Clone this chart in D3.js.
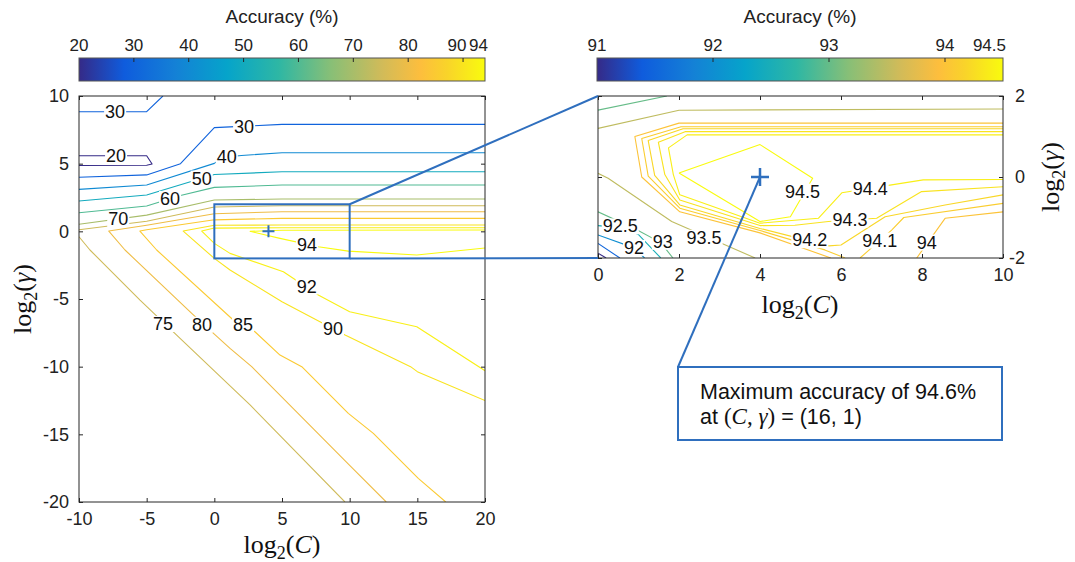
<!DOCTYPE html>
<html>
<head>
<meta charset="utf-8">
<script src="https://cdn.jsdelivr.net/npm/d3@7"></script>
<style>
  body { margin: 0; background: #fff; }
  svg { font-family: "Liberation Sans", Arial, Helvetica, sans-serif; }
</style>
</head>
<body>
<svg id="chart" width="1075" height="562"></svg>
<script>
// ---------- data ----------
// axes ticks
const leftXTicks = [-10, -5, 0, 5, 10, 15, 20];
const leftYTicks = [-20, -15, -10, -5, 0, 5, 10];
const rightXTicks = [0, 2, 4, 6, 8, 10];
const rightYTicks = [-2, 0, 2];
const cbLeftTicks = [20, 30, 40, 50, 60, 70, 80, 90, 94];
const cbRightTicks = [91, 92, 93, 94, 94.5];

// left panel contours, [log2 C, log2 gamma]
const c20 = [[-10, 5.59], [-5, 5.59], [-4.6, 4.97], [-5, 4.88], [-10, 4.86]];
const c30a = [[-10, 8.84], [-5, 8.84], [-3.8, 10]];
const c30b = [[-10, 4.0], [-5, 4.17], [-2.5, 5.0], [0, 7.66], [5, 7.9], [20, 7.9]];
const c40 = [[-10, 3.1], [-5, 3.42], [0, 5.02], [0.6, 5.45], [2, 5.6], [5, 5.81], [20, 5.81]];
const c50 = [[-10, 2.24], [-5, 2.68], [0, 4.2], [5, 4.4], [20, 4.4]];
const c60 = [[-10, 1.37], [-5, 1.87], [-2.5, 2.65], [0, 3.25], [5, 3.42], [20, 3.42]];
const c70 = [[-10, 0.52], [-5, 1.2], [0, 2.31], [5, 2.39], [20, 2.39]];
const c75a = [[-10, 0.12], [-5, 0.75], [0, 1.8], [5, 1.89], [20, 1.89]];
const c75b = [[-10, -0.4], [-9.19, -1.38], [-5.49, -5.08], [-2.53, -7.91], [2.64, -12.83], [9.65, -20]];
const c80 = [[20, 1.45], [5, 1.45], [0, 1.3], [-5, 0.45], [-7.8, 0.02], [-6.6, -1.38], [-1.67, -6.06],
             [0, -7.6], [1.16, -8.65], [2.76, -10], [10, -17.3], [12.7, -20]];
const c85 = [[20, 0.96], [5, 0.96], [0, 0.85], [-5, 0.12], [-5.5, 0.02], [-4.26, -1.38], [1.4, -6.55],
             [3.0, -7.42], [4.85, -9.14], [6.46, -10], [9.9, -13.45], [11.75, -14.93], [15.07, -18.25], [17.1, -20]];
const c90 = [[20, 0.47], [5, 0.47], [0, 0.45], [-2.3, 0.02], [0, -2.0], [1.16, -2.86], [5, -5.2],
             [9.66, -7.66], [14.5, -10], [15, -10.37], [20, -12.5]];
const c92 = [[20, 0.27], [5, 0.27], [0, 0.24], [-0.93, 0.02], [0, -0.89], [1.16, -1.63], [5.1, -2.99],
             [7.68, -4.71], [10, -5.94], [14.96, -7.05], [20, -10.3]];
const c94 = [[20, 0.1], [5, 0.08], [2.64, 0.0], [4.85, -0.52], [7.68, -1.14], [9.9, -1.46], [14.96, -1.75], [20, -1.23]];

const leftLabels = [
  ["30", -7.33, 8.84], ["20", -7.26, 5.59], ["30", 2.2, 7.72], ["40", 0.92, 5.47],
  ["50", -0.93, 3.9], ["60", -3.27, 2.4], ["70", -7.1, 0.91], ["75", -3.79, -6.85],
  ["80", -0.91, -6.9], ["85", 2.12, -6.94], ["90", 8.77, -7.19], ["92", 6.83, -4.08], ["94", 6.85, -0.98]
];

// right panel (zoom) contours
const r91 = [[0, -1.88], [0.2, -2.0]];
const r915 = [[0, -1.64], [0.54, -2.0]];
const r92 = [[0, -1.43], [0.89, -1.75], [1.15, -2.0]];
const r925 = [[0, -1.2], [0.55, -1.25], [1.0, -1.42], [1.55, -2.0]];
const r93a = [[0, 1.65], [1.7, 2.0]];
const r93b = [[0, -0.86], [0.9, -1.27], [1.55, -1.62], [1.85, -2.0]];
const r935a = [[0, 1.2], [2, 1.65], [10, 1.68]];
const r935b = [[0, 0.09], [0.25, -0.03], [1.82, -1.1], [3.88, -2.0]];
const r940a = [[10, 1.33], [2.0, 1.33], [0.91, 1.0], [1.08, 0.0], [2.02, -0.86], [4.0, -1.38], [5.75, -2.0]];
const r940b = [[7.87, -2.0], [8.57, -1.02], [10, -0.86]];
const r941a = [[10, 1.24], [2.05, 1.24], [1.08, 0.95], [1.24, 0.02], [2.02, -0.77], [4.0, -1.32], [5.6, -1.8], [6.1, -2.0]];
const r941b = [[6.47, -2.0], [7.25, -1.31], [7.55, -1.0], [10, -0.65]];
const r942 = [[10, 1.19], [2.1, 1.19], [1.24, 0.9], [1.4, 0.04], [2.02, -0.69], [4.0, -1.27], [5.7, -1.7],
              [6.0, -1.68], [6.51, -1.35], [7.09, -0.98], [8.57, -0.69], [10, -0.44]];
const r943 = [[10, 1.12], [2.15, 1.12], [1.49, 0.86], [1.65, 0.06], [2.02, -0.57], [4.0, -1.2], [4.86, -1.19],
              [5.69, -1.1], [6.88, -1.02], [7.99, -0.36], [10, -0.24]];
const r944 = [[10, 1.04], [2.2, 1.04], [1.74, 0.72], [1.86, 0.06], [2.02, -0.44], [4.0, -1.14], [5.44, -1.02],
              [6.02, -0.39], [7.21, -0.2], [8.03, -0.07], [10, -0.06]];
const r945 = [[2.0, 0.1], [4.0, 0.8], [5.3, -0.03], [4.75, -0.98], [4.0, -1.1], [2.0, 0.1]];

const rightLabels = [
  ["94.5", 5.05, -0.36], ["94.4", 6.72, -0.3], ["94.3", 6.22, -1.05], ["94.2", 5.23, -1.56],
  ["94.1", 6.96, -1.57], ["94", 8.12, -1.62], ["93.5", 2.62, -1.5], ["93", 1.6, -1.6],
  ["92", 0.89, -1.75], ["92.5", 0.55, -1.22]
];

const bestPoint = [4, 0];        // log2 C = 4, log2 gamma = 0
const zoomBox = [[0, -2], [10, 2]];

const leftContours = [
  [20, c20], [30, c30a], [30, c30b], [40, c40], [50, c50], [60, c60], [70, c70],
  [75, c75a], [75, c75b], [80, c80], [85, c85], [90, c90], [92, c92], [94, c94]
];
const rightContours = [
  [91, r91], [91.5, r915], [92, r92], [92.5, r925], [93, r93a], [93, r93b], [93.5, r935a], [93.5, r935b],
  [94, r940a], [94, r940b], [94.1, r941a], [94.1, r941b], [94.2, r942], [94.3, r943], [94.4, r944], [94.5, r945]
];

// parula colour map
const parulaT = [0, 0.111, 0.238, 0.365, 0.492, 0.619, 0.746, 0.841, 0.905, 1];
const parulaC = ["#352a87", "#0f5cdd", "#1481d6", "#06a4ca", "#2eb7a4", "#87bf77", "#d1bb59", "#fdbe3d", "#f9d32a", "#f9fb0e"];
const parula = d3.scaleLinear().domain(parulaT).range(parulaC).interpolate(d3.interpolateRgb).clamp(true);

// ---------- drawing ----------
const svg = d3.select("#chart");
const blue = "#2f6fbe";
const axisCol = "#262626";

const xL = d3.scaleLinear().domain([-10, 20]).range([79, 485]);
const yL = d3.scaleLinear().domain([-20, 10]).range([502, 96]);
const xR = d3.scaleLinear().domain([0, 10]).range([598, 1003]);
const yR = d3.scaleLinear().domain([-2, 2]).range([258, 96]);
const cbL = d3.scaleLinear().domain([20, 94]).range([79, 485]);
const cbR = d3.scaleLinear().domain([91, 94.5]).range([597, 1003]);

const defs = svg.append("defs");
function clip(id, x, y) {
  defs.append("clipPath").attr("id", id).append("rect")
    .attr("x", x.range()[0]).attr("y", y.range()[1])
    .attr("width", x.range()[1] - x.range()[0]).attr("height", y.range()[0] - y.range()[1]);
}
clip("clipL", xL, yL);
clip("clipR", xR, yR);

function drawContours(list, x, y, lo, hi, clipId) {
  const line = d3.line().x(d => x(d[0])).y(d => y(d[1]));
  svg.append("g").attr("clip-path", `url(#${clipId})`)
    .selectAll("path").data(list).join("path")
    .attr("d", d => line(d[1]))
    .attr("fill", "none")
    .attr("stroke", d => parula((d[0] - lo) / (hi - lo)))
    .attr("stroke-width", 1.1)
    .attr("stroke-linejoin", "round");
}
drawContours(leftContours, xL, yL, 20, 94, "clipL");
drawContours(rightContours, xR, yR, 91, 94.5, "clipR");

function drawLabels(list, x, y, clipId) {
  const g = svg.append("g").attr("clip-path", `url(#${clipId})`);
  list.forEach(d => {
    const lg = g.append("g");
    const r = lg.append("rect").attr("fill", "#fff");
    const t = lg.append("text")
      .attr("x", x(d[1])).attr("y", y(d[2]))
      .attr("text-anchor", "middle").attr("dominant-baseline", "central")
      .attr("font-size", 18).attr("fill", "#111").text(d[0]);
    const b = t.node().getBBox();
    r.attr("x", b.x - 1).attr("y", b.y + 2).attr("width", b.width + 2).attr("height", b.height - 4);
  });
}
drawLabels(leftLabels, xL, yL, "clipL");
drawLabels(rightLabels, xR, yR, "clipR");

const fmt = d => String(d);
function styleAxis(g, showText) {
  g.select(".domain").remove();
  g.selectAll("line").attr("stroke", axisCol);
  g.selectAll("text").attr("font-size", 18).attr("fill", "#222").attr("font-family", null);
  if (!showText) g.selectAll("text").remove();
}
function drawAxes(x, y, xt, yt, yOnRight) {
  const g = svg.append("g");
  const x0 = x.range()[0], x1 = x.range()[1], y0 = y.range()[0], y1 = y.range()[1];
  g.append("g").attr("transform", `translate(0,${y0})`)
    .call(d3.axisBottom(x).tickValues(xt).tickFormat(fmt).tickSizeInner(-4).tickSizeOuter(0).tickPadding(10))
    .call(s => styleAxis(s, true));
  g.append("g").attr("transform", `translate(0,${y1})`)
    .call(d3.axisTop(x).tickValues(xt).tickSizeInner(-4).tickSizeOuter(0))
    .call(s => styleAxis(s, false));
  g.append("g").attr("transform", `translate(${x0},0)`)
    .call(d3.axisLeft(y).tickValues(yt).tickFormat(fmt).tickSizeInner(-4).tickSizeOuter(0).tickPadding(10))
    .call(s => styleAxis(s, !yOnRight));
  const ra = g.append("g").attr("transform", `translate(${x1},0)`)
    .call(d3.axisRight(y).tickValues(yt).tickFormat(fmt).tickSizeInner(-4).tickSizeOuter(0).tickPadding(22))
    .call(s => styleAxis(s, yOnRight));
  ra.selectAll("text").attr("text-anchor", "end");
  g.append("rect").attr("x", x0).attr("y", y1).attr("width", x1 - x0).attr("height", y0 - y1)
    .attr("fill", "none").attr("stroke", axisCol).attr("stroke-width", 1);
}
drawAxes(xL, yL, leftXTicks, leftYTicks, false);
drawAxes(xR, yR, rightXTicks, rightYTicks, true);

// axis titles (math style)
function mathLabel(x, y, rotate, varName) {
  const t = svg.append("text")
    .attr("transform", `translate(${x},${y})` + (rotate ? " rotate(-90)" : ""))
    .attr("text-anchor", "middle")
    .attr("font-family", "'Liberation Serif', 'Times New Roman', serif")
    .attr("font-size", 26).attr("fill", "#111");
  t.append("tspan").text("log");
  t.append("tspan").attr("font-size", 18).attr("dy", 6).text("2");
  t.append("tspan").attr("dy", -6).text("(");
  t.append("tspan").attr("font-style", "italic").text(varName);
  t.append("tspan").text(")");
}
mathLabel(282, 553, false, "C");
mathLabel(800, 313, false, "C");
mathLabel(31, 299, true, "\u03b3");
mathLabel(1059, 177, true, "\u03b3");

// colour bars
function colorbar(id, sc, ticks) {
  const lo = sc.domain()[0], hi = sc.domain()[1];
  const n = ticks.length;
  const grad = defs.append("linearGradient").attr("id", id);
  parulaT.forEach((t, i) => grad.append("stop").attr("offset", t).attr("stop-color", parulaC[i]));
  const x0 = sc.range()[0], x1 = sc.range()[1];
  const g = svg.append("g");
  g.append("rect").attr("x", x0).attr("y", 58).attr("width", x1 - x0).attr("height", 23)
    .attr("fill", `url(#${id})`).attr("stroke", "#555").attr("stroke-width", 1);
  g.selectAll("line.tk").data(ticks.filter(t => t > lo && t < hi)).join("line")
    .attr("x1", d => sc(d)).attr("x2", d => sc(d)).attr("y1", 58).attr("y2", 62)
    .attr("stroke", axisCol);
  // last label is kept inside the bar end; a crowded neighbour moves aside
  const crowded = sc(ticks[n - 1]) - sc(ticks[n - 2]) < 30;
  g.selectAll("text.tl").data(ticks).join("text")
    .attr("x", (d, i) => i === n - 1 ? sc(d) + 3 : (i === n - 2 && crowded ? sc(d) - 6 : sc(d)))
    .attr("y", 51)
    .attr("text-anchor", (d, i) => i === n - 1 ? "end" : "middle")
    .attr("font-size", 17).attr("fill", "#222").text(d => String(d));
  g.append("text").attr("x", (x0 + x1) / 2).attr("y", 23).attr("text-anchor", "middle")
    .attr("font-size", 19).attr("fill", "#222").text("Accuracy (%)");
}
colorbar("gradL", cbL, cbLeftTicks);
colorbar("gradR", cbR, cbRightTicks);

// zoom rectangle and connectors
svg.append("rect")
  .attr("x", xL(zoomBox[0][0])).attr("y", yL(zoomBox[1][1]))
  .attr("width", xL(zoomBox[1][0]) - xL(zoomBox[0][0]))
  .attr("height", yL(zoomBox[0][1]) - yL(zoomBox[1][1]))
  .attr("fill", "none").attr("stroke", blue).attr("stroke-width", 2);
svg.append("line")
  .attr("x1", xL(zoomBox[1][0])).attr("y1", yL(zoomBox[1][1]))
  .attr("x2", xR(zoomBox[0][0])).attr("y2", yR(zoomBox[1][1]))
  .attr("stroke", blue).attr("stroke-width", 2);
svg.append("line")
  .attr("x1", xL(zoomBox[1][0])).attr("y1", yL(zoomBox[0][1]))
  .attr("x2", xR(zoomBox[0][0])).attr("y2", yR(zoomBox[0][1]))
  .attr("stroke", blue).attr("stroke-width", 2);

// annotation
const box = { x: 678, y: 367, w: 324, h: 73 };
svg.append("line")
  .attr("x1", xR(bestPoint[0])).attr("y1", yR(bestPoint[1]))
  .attr("x2", box.x).attr("y2", box.y)
  .attr("stroke", blue).attr("stroke-width", 2);
svg.append("rect").attr("x", box.x).attr("y", box.y).attr("width", box.w).attr("height", box.h)
  .attr("fill", "#fff").attr("stroke", blue).attr("stroke-width", 2);
svg.append("text").attr("x", box.x + 22).attr("y", box.y + 32)
  .attr("font-size", 21.5).attr("fill", "#111").text("Maximum accuracy of 94.6%");
const t2 = svg.append("text").attr("x", box.x + 22).attr("y", box.y + 57)
  .attr("font-size", 21.5).attr("fill", "#111");
t2.append("tspan").text("at ");
const m = t2.append("tspan").attr("font-family", "'Liberation Serif', 'Times New Roman', serif").attr("font-size", 23);
m.append("tspan").text("(");
m.append("tspan").attr("font-style", "italic").text("C");
m.append("tspan").text(", ");
m.append("tspan").attr("font-style", "italic").text("\u03b3");
m.append("tspan").text(")");
t2.append("tspan").text(" = (16, 1)");

// best point markers
function plus(x, y, size, w) {
  svg.append("path")
    .attr("d", `M${x - size},${y}H${x + size}M${x},${y - size}V${y + size}`)
    .attr("stroke", blue).attr("stroke-width", w).attr("fill", "none");
}
plus(xL(bestPoint[0]), yL(bestPoint[1]), 6, 2);
plus(xR(bestPoint[0]), yR(bestPoint[1]), 9, 2.5);
</script>
</body>
</html>
